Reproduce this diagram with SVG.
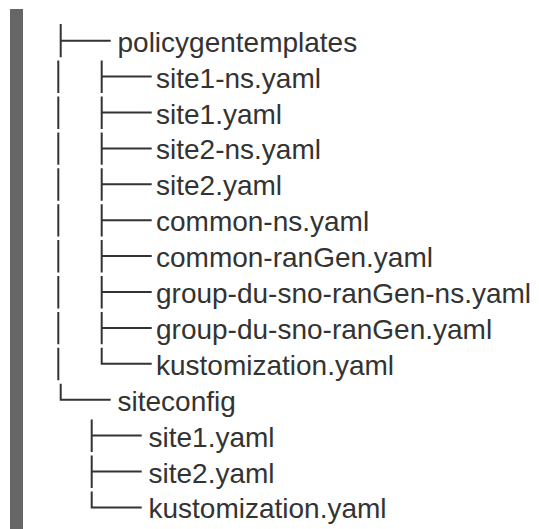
<svg xmlns="http://www.w3.org/2000/svg" width="539" height="529" viewBox="0 0 539 529">
  <style>
    .lbl { font-family: "Liberation Sans", Arial, Helvetica, sans-serif; font-size: 28px; fill: #333333; }
    .tree { stroke: #333333; stroke-width: 2; fill: none; }
  </style>
  <rect id="sidebar" x="10" y="9" width="13" height="520" fill="#666666"/>
  <g id="connectors" class="tree">
    <!-- level 1 -->
    <path d="M60.7,24 V57.2 M60.7,40.7 H110.7"/>
    <path d="M58.3,60.6 V93 M58.3,96.5 V129 M58.3,132.4 V164.8 M58.3,168.3 V200.7 M58.3,204.2 V236.6 M58.3,240.1 V272.5 M58.3,276 V308.4 M58.3,311.9 V344.3 M58.3,347.8 V380.2"/>
    <path d="M60.7,383.7 V399.7 H110.7"/>
    <!-- level 2 under policygentemplates -->
    <path d="M101.7,60.6 V93 M101.7,76.6 H151.7"/>
    <path d="M101.7,96.5 V129 M101.7,112.5 H151.7"/>
    <path d="M101.7,132.4 V164.8 M101.7,148.4 H151.7"/>
    <path d="M101.7,168.3 V200.7 M101.7,184.3 H151.7"/>
    <path d="M101.7,204.2 V236.6 M101.7,220.2 H151.7"/>
    <path d="M101.7,240.1 V272.5 M101.7,256.1 H151.7"/>
    <path d="M101.7,276 V308.4 M101.7,292 H151.7"/>
    <path d="M101.7,311.9 V344.3 M101.7,327.9 H151.7"/>
    <path d="M101.7,347.8 V363.8 H151.7"/>
    <!-- level 2 under siteconfig -->
    <path d="M91.7,419.6 V452 M91.7,435.6 H141.7"/>
    <path d="M91.7,455.5 V487.9 M91.7,471.5 H141.7"/>
    <path d="M91.7,491.4 V507.4 H141.7"/>
  </g>
  <g id="policygentemplates"><text class="lbl" x="117.5" y="51.7">policygentemplates</text></g>
  <g id="pgt-site1-ns"><text class="lbl" x="156" y="87.6">site1-ns.yaml</text></g>
  <g id="pgt-site1"><text class="lbl" x="156" y="123.5">site1.yaml</text></g>
  <g id="pgt-site2-ns"><text class="lbl" x="156" y="159.4">site2-ns.yaml</text></g>
  <g id="pgt-site2"><text class="lbl" x="156" y="195.3">site2.yaml</text></g>
  <g id="pgt-common-ns"><text class="lbl" x="156" y="231.2">common-ns.yaml</text></g>
  <g id="pgt-common-ranGen"><text class="lbl" x="156" y="267.1">common-ranGen.yaml</text></g>
  <g id="pgt-group-du-sno-ranGen-ns"><text class="lbl" x="156" y="303">group-du-sno-ranGen-ns.yaml</text></g>
  <g id="pgt-group-du-sno-ranGen"><text class="lbl" x="156" y="338.9">group-du-sno-ranGen.yaml</text></g>
  <g id="pgt-kustomization"><text class="lbl" x="156" y="374.8">kustomization.yaml</text></g>
  <g id="siteconfig"><text class="lbl" x="117.5" y="410.7">siteconfig</text></g>
  <g id="sc-site1"><text class="lbl" x="148.5" y="446.6">site1.yaml</text></g>
  <g id="sc-site2"><text class="lbl" x="148.5" y="482.5">site2.yaml</text></g>
  <g id="sc-kustomization"><text class="lbl" x="148.5" y="518.4">kustomization.yaml</text></g>
</svg>
